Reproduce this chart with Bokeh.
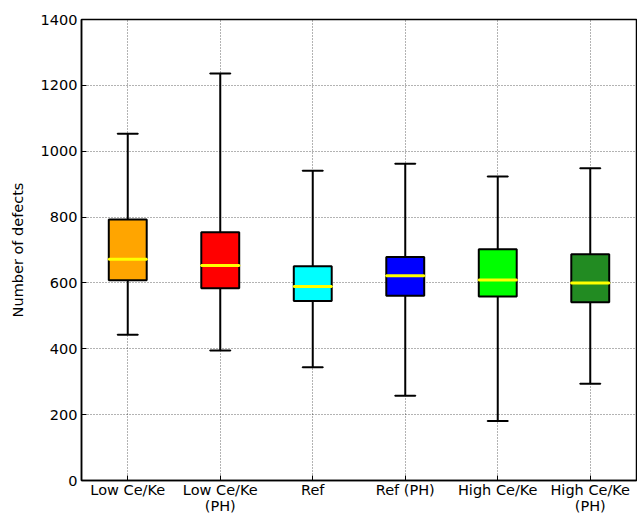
from bokeh.plotting import figure
from bokeh.models import ColumnDataSource, FixedTicker, Range1d
from bokeh.embed import file_html
from bokeh.resources import INLINE

categories = ["Low Ce/Ke", "Low Ce/Ke\n(PH)", "Ref", "Ref (PH)", "High Ce/Ke", "High Ce/Ke\n(PH)"]
whisker_high = [1053, 1236, 941, 962, 923, 948]
q3 = [793, 754, 651, 679, 702, 687]
median = [672, 653, 589, 622, 609, 600]
q1 = [608, 584, 545, 561, 559, 541]
whisker_low = [443, 395, 344, 257, 181, 294]
colors = ["#FFA500", "#FF0000", "#00FFFF", "#0000FF", "#00FF00", "#228B22"]
y_ticks = [0, 200, 400, 600, 800, 1000, 1200, 1400]

xs = list(range(1, len(categories) + 1))
src = ColumnDataSource(dict(x=xs, hi=whisker_high, q3=q3, med=median, q1=q1, lo=whisker_low, color=colors))

p = figure(width=637, height=516, output_backend="svg", toolbar_location=None,
           x_range=Range1d(0.5, 6.5), y_range=Range1d(0, 1400),
           min_border_left=81, min_border_top=19, min_border_bottom=36, min_border_right=1)
p.background_fill_color = "white"
p.border_fill_color = "white"
p.outline_line_color = "black"
p.outline_line_width = 1.5

FONT = "DejaVu Sans"
for ax in (p.xaxis, p.yaxis):
    ax.major_label_text_font = FONT
    ax.major_label_text_font_size = "14.5px"
    ax.major_label_text_color = "black"
    ax.axis_line_color = "black"
    ax.axis_line_width = 1.5
    ax.major_tick_in = 5
    ax.major_tick_out = 0
    ax.minor_tick_line_color = None
    ax.major_tick_line_color = "black"
    ax.major_label_standoff = 4

p.xaxis.major_label_text_line_height = 1.0
p.xaxis.major_label_standoff = 1
p.xaxis.ticker = FixedTicker(ticks=xs)
p.xaxis.major_label_overrides = {x: c for x, c in zip(xs, categories)}
p.yaxis.ticker = FixedTicker(ticks=y_ticks)
p.yaxis.axis_label = "Number of defects"
p.yaxis.axis_label_text_font = FONT
p.yaxis.axis_label_text_font_size = "14.5px"
p.yaxis.axis_label_text_font_style = "normal"
p.yaxis.axis_label_text_color = "black"
p.yaxis.axis_label_standoff = 12

p.grid.grid_line_color = "black"
p.grid.grid_line_alpha = 0.6
p.grid.grid_line_dash = "1 2"
p.grid.grid_line_width = 1

# whiskers
p.segment(x0="x", y0="q3", x1="x", y1="hi", source=src, line_color="black", line_width=2)
p.segment(x0="x", y0="q1", x1="x", y1="lo", source=src, line_color="black", line_width=2)
# caps
p.rect(x="x", y="hi", width=0.22, height=0.001, source=src, line_color="black", line_width=2, fill_color=None)
p.rect(x="x", y="lo", width=0.22, height=0.001, source=src, line_color="black", line_width=2, fill_color=None)
# boxes
p.vbar(x="x", top="q3", bottom="q1", width=0.41, source=src, fill_color="color", line_color="black", line_width=2)
# medians
p.rect(x="x", y="med", width=0.41, height=0.001, source=src, line_color="#FFFF00", line_width=3, fill_color=None)

open("out.html", "w").write(file_html(p, INLINE))
